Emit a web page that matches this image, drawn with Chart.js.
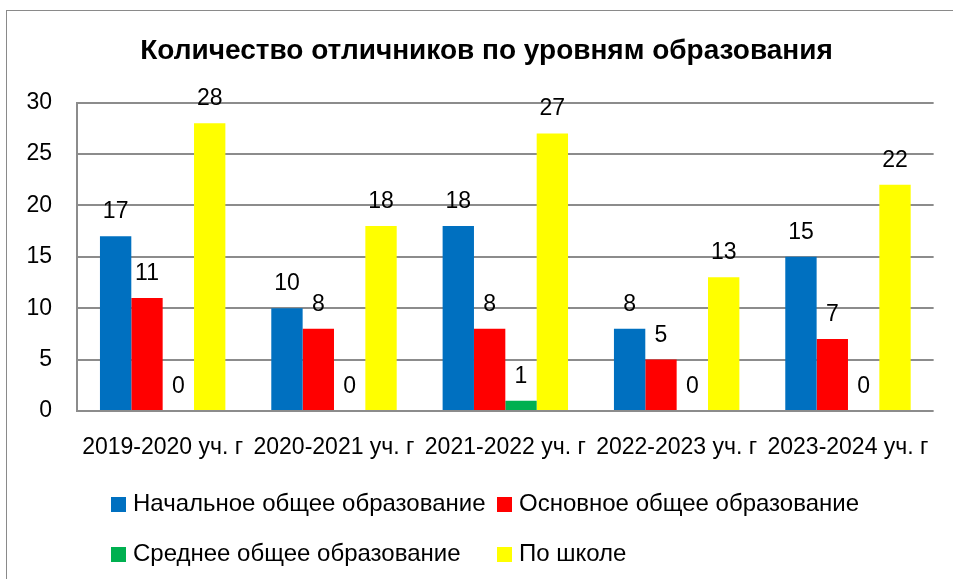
<!DOCTYPE html>
<html>
<head>
<meta charset="utf-8">
<script src="https://cdn.jsdelivr.net/npm/chart.js@4/dist/chart.umd.min.js"></script>
<style>
  html, body { margin: 0; padding: 0; background: #fff; }
  #wrap { position: relative; width: 953px; height: 579px; overflow: hidden; }
  #frame { position: absolute; left: 6px; top: 10px; width: 960px; height: 600px; border-left: 1px solid #8a8a8a; border-top: 1px solid #8a8a8a; }
  canvas { position: absolute; left: 0; top: 0; }
  .leg { position: absolute; font: 24px "Liberation Sans", Arial, sans-serif; color: #000; white-space: nowrap; line-height: 28px; height: 28px; }
  .leg .box { display: inline-block; width: 15px; height: 15px; margin-right: 7px; vertical-align: -1px; }
</style>
</head>
<body>
<div id="wrap">
  <div id="frame"></div>
  <canvas id="c" width="953" height="579"></canvas>
  <div id="legend"></div>
</div>
<script>
const categories = ['2019-2020 уч. г', '2020-2021 уч. г', '2021-2022 уч. г', '2022-2023 уч. г', '2023-2024 уч. г'];
const seriesNames = ['Начальное общее образование', 'Основное общее образование', 'Среднее общее образование', 'По школе'];
const nachalnoe = [17, 10, 18, 8, 15];
const osnovnoe = [11, 8, 8, 5, 7];
const srednee = [0, 0, 1, 0, 0];
const poShkole = [28, 18, 27, 13, 22];
const seriesColors = ['#0070C0', '#FF0000', '#00B050', '#FFFF00'];
const yMin = 0, yMax = 30, yStep = 5;
const titleText = 'Количество отличников по уровням образования';

const FONT = '"Liberation Sans", Arial, sans-serif';
Chart.defaults.color = '#000';
Chart.defaults.font.family = FONT;

const seriesValues = [nachalnoe, osnovnoe, srednee, poShkole];

const valueLabels = {
  id: 'valueLabels',
  afterDatasetsDraw(chart) {
    const ctx = chart.ctx;
    ctx.save();
    ctx.font = '23px ' + FONT;
    ctx.fillStyle = '#000';
    ctx.textAlign = 'center';
    ctx.textBaseline = 'alphabetic';
    chart.data.datasets.forEach((ds, i) => {
      const meta = chart.getDatasetMeta(i);
      meta.data.forEach((el, j) => {
        ctx.fillText(String(ds.data[j]), el.x, el.y - 18);
      });
    });
    ctx.restore();
  }
};

const gridColor = '#8c8c8c';

new Chart(document.getElementById('c'), {
  type: 'bar',
  data: {
    labels: categories,
    datasets: seriesNames.map((n, i) => ({
      label: n,
      data: seriesValues[i],
      backgroundColor: seriesColors[i],
      borderWidth: 0,
      categoryPercentage: 0.732,
      barPercentage: 1.0
    }))
  },
  options: {
    responsive: false,
    animation: false,
    layout: { padding: { left: 20, right: 0, top: 10, bottom: 118 } },
    plugins: {
      legend: { display: false },
      tooltip: { enabled: false },
      title: {
        display: true,
        text: titleText,
        color: '#000',
        font: { size: 28, weight: 'bold', family: FONT, lineHeight: 1.2 },
        padding: { top: 24, bottom: 35 }
      }
    },
    scales: {
      x: {
        grid: { display: false, drawTicks: false },
        border: { display: false },
        ticks: { autoSkip: false, maxRotation: 0, minRotation: 0, padding: 23, font: { size: 23 }, color: '#000' },
        afterFit(s) { s.height = 50; }
      },
      y: {
        min: yMin, max: yMax,
        grid: { color: gridColor, lineWidth: 2, drawTicks: false },
        border: { display: true, color: gridColor, width: 2 },
        ticks: { stepSize: yStep, padding: 25, font: { size: 23 }, color: '#000' },
        afterFit(s) { s.width = 57; }
      },
      rightGap: {
        type: 'linear',
        position: 'right',
        display: true,
        grid: { display: false, drawOnChartArea: false, drawTicks: false },
        border: { display: false },
        ticks: { display: false },
        afterFit(s) { s.width = 15; }
      }
    }
  },
  plugins: [valueLabels]
});

// Legend (two columns, like the original)
const legend = document.getElementById('legend');
const colX = [111, 497];
const rowY = [489, 539];
seriesNames.forEach((n, i) => {
  const d = document.createElement('div');
  d.className = 'leg';
  d.style.left = colX[i % 2] + 'px';
  d.style.top = rowY[Math.floor(i / 2)] + 'px';
  const b = document.createElement('span');
  b.className = 'box';
  b.style.background = seriesColors[i];
  d.appendChild(b);
  d.appendChild(document.createTextNode(n));
  legend.appendChild(d);
});
</script>
</body>
</html>
